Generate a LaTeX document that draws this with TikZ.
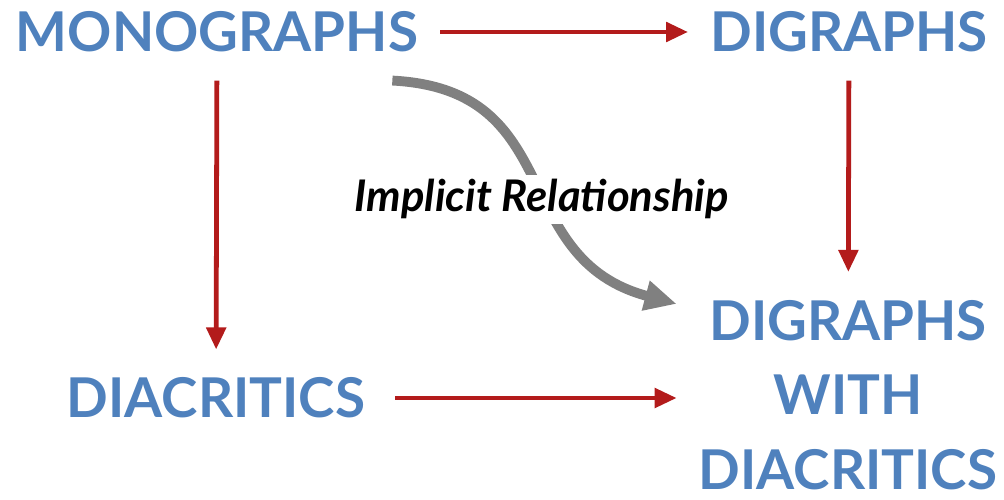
\documentclass[tikz,border=0pt]{standalone}
\usepackage{fontspec}
\setmainfont{Lato}
\usepackage{tikz}
\usetikzlibrary{arrows.meta, positioning, calc}

\definecolor{wordblue}{HTML}{4F81BD}
\definecolor{linkred}{HTML}{B31B1B}
\definecolor{linkgray}{HTML}{808080}

\begin{document}
\begin{tikzpicture}[
    x=0.025cm, y=-0.025cm,
    word/.style={
        text=wordblue,
        font=\fontsize{39}{53}\selectfont\bfseries,
        align=center,
        inner xsep=0.55cm,
        inner ysep=0.7cm
    },
    link/.style={draw=linkred, line width=3.4pt, -{Triangle[length=0.55cm, width=0.48cm]}},
    implicit/.style={draw=linkgray, line width=7pt, -{Triangle[length=0.8cm, width=0.72cm]}},
    tag/.style={font=\fontsize{31}{33}\selectfont\bfseries\itshape, fill=white, inner sep=3pt}
]

    \useasboundingbox (0,0) rectangle (1004,499);

    % the four kinds of characters
    \node[word] (mono) at (217,32) {MONOGRAPHS};
    \node[word] (digr) at (849,32) {DIGRAPHS};
    \node[word] (diac) at (216,398) {DIACRITICS};
    \node[word] (both) at (848,395) {DIGRAPHS\\WITH\\DIACRITICS};

    % direct steps
    \draw[link] (mono.east) -- (digr.west);
    \draw[link] (mono) -- (diac);
    \draw[link] (digr) -- (both);
    \draw[link] ([xshift=0.2cm]diac.east) -- (diac.east -| both.west);

    % the implied step, label sits on the curve
    \draw[implicit] ([xshift=-1.2cm]mono.south east) to[out=-3, in=165, looseness=1.25]
        node[tag, pos=0.53, yshift=-0.3cm] {Implicit Relationship} ([yshift=-0.8cm]both.north west);

\end{tikzpicture}
\end{document}
